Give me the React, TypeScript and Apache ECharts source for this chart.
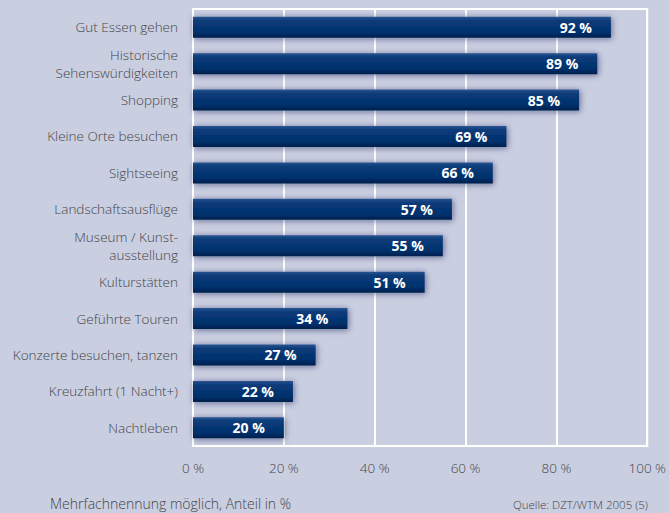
import React, { useEffect, useRef } from "react";
import * as echarts from "echarts";

const categories = [
  "Gut Essen gehen",
  "Historische\nSehenswürdigkeiten",
  "Shopping",
  "Kleine Orte besuchen",
  "Sightseeing",
  "Landschaftsausflüge",
  "Museum / Kunst-\nausstellung",
  "Kulturstätten",
  "Geführte Touren",
  "Konzerte besuchen, tanzen",
  "Kreuzfahrt (1 Nacht+)",
  "Nachtleben",
];
const values = [92, 89, 85, 69, 66, 57, 55, 51, 34, 27, 22, 20];
const xTicks = [0, 20, 40, 60, 80, 100];
const footnote = "Mehrfachnennung möglich, Anteil in %";
const source = "Quelle: DZT/WTM 2005 (5)";

const FONT = "'Open Sans', 'Noto Sans', sans-serif";
const TEXT = "#454545";

export default function App() {
  const ref = useRef<HTMLDivElement>(null);
  useEffect(() => {
    if (!ref.current) return;
    const chart = echarts.init(ref.current, null, { renderer: "svg" });
    chart.setOption({
      animation: false,
      backgroundColor: "#c9cee1",
      grid: {
        left: 193,
        right: 21,
        top: 9,
        bottom: 67,
        show: true,
        borderColor: "#ffffff",
        borderWidth: 2,
        backgroundColor: "transparent",
      },
      xAxis: {
        type: "value",
        min: xTicks[0],
        max: xTicks[xTicks.length - 1],
        interval: 20,
        axisLine: { show: false },
        axisTick: { show: false },
        splitLine: { show: true, lineStyle: { color: "#ffffff", width: 2 } },
        axisLabel: {
          formatter: (v: number) => `${v} %`,
          color: TEXT,
          fontFamily: FONT,
          fontWeight: 300,
          fontSize: 13.5,
          margin: 15,
        },
      },
      yAxis: {
        type: "category",
        data: categories,
        inverse: true,
        axisLine: { show: false },
        axisTick: { show: false },
        splitLine: { show: false },
        axisLabel: {
          color: TEXT,
          fontFamily: FONT,
          fontWeight: 300,
          fontSize: 13.5,
          lineHeight: 18,
          margin: 15,
          align: "right",
        },
      },
      series: [
        {
          type: "bar",
          data: values,
          barWidth: 21,
          itemStyle: {
            color: new echarts.graphic.LinearGradient(0, 0, 0, 1, [
              { offset: 0, color: "#2a5590" },
              { offset: 0.18, color: "#0c3c7a" },
              { offset: 0.75, color: "#00306c" },
              { offset: 1, color: "#001f4c" },
            ]),
            shadowColor: "rgba(0, 25, 70, 0.5)",
            shadowBlur: 6,
            shadowOffsetX: 1,
            shadowOffsetY: 1,
          },
          label: {
            show: true,
            position: "insideRight",
            distance: 19,
            formatter: (p: any) => `${p.value} %`,
            color: "#ffffff",
            fontFamily: FONT,
            fontWeight: "bold",
            fontSize: 14,
          },
        },
      ],
      graphic: [
        {
          type: "text",
          left: 50,
          top: 496,
          style: {
            text: footnote,
            fill: TEXT,
            font: `300 14px ${FONT}`,
          },
        },
        {
          type: "text",
          right: 21,
          top: 498,
          style: {
            text: source,
            fill: TEXT,
            font: `300 11.5px ${FONT}`,
          },
        },
      ],
    });
    return () => chart.dispose();
  }, []);
  return (
    <div
      ref={ref}
      style={{ position: "fixed", left: 0, top: 0, width: 669, height: 513 }}
    />
  );
}
